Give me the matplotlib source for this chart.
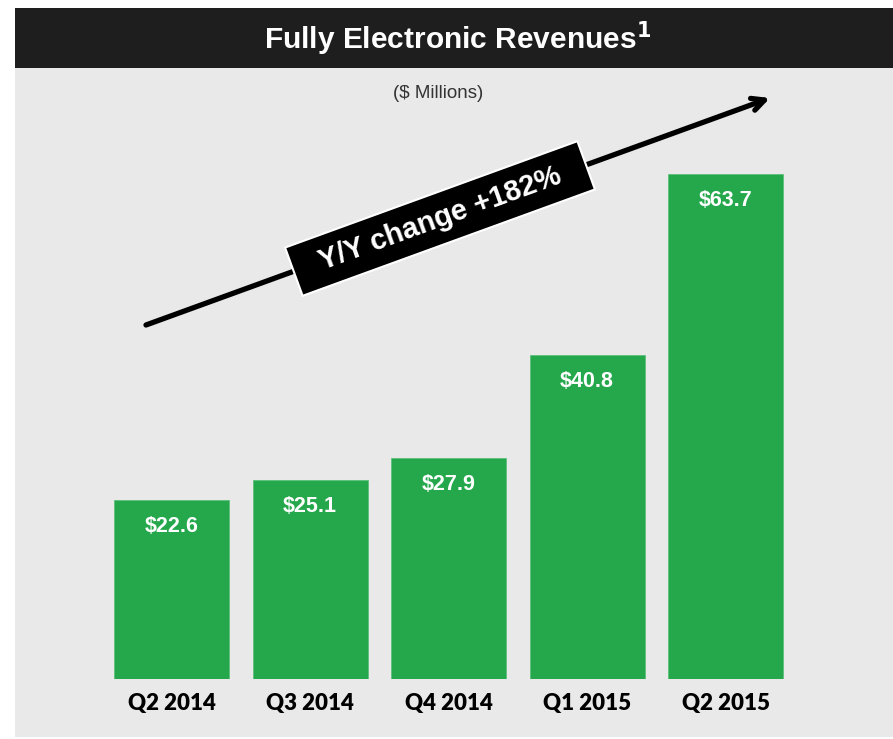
import matplotlib.pyplot as plt
from matplotlib.patches import Rectangle

quarters = ['Q2 2014', 'Q3 2014', 'Q4 2014', 'Q1 2015', 'Q2 2015']
revenues = [22.6, 25.1, 27.9, 40.8, 63.7]
value_labels = ['$22.6', '$25.1', '$27.9', '$40.8', '$63.7']

GREEN = '#25a84c'
PANEL = '#e9e9e9'
HEADER = '#1e1e1e'
SANS = ['Liberation Sans', 'DejaVu Sans']

W, H = 893, 739
fig = plt.figure(figsize=(W / 100, H / 100), dpi=100, facecolor='white')

# gray panel + black header band (kept behind the axes)
fig.patches.append(Rectangle((15 / W, 2 / H), 878 / W, 669 / H,
                             transform=fig.transFigure, facecolor=PANEL,
                             edgecolor='none', zorder=-2))
fig.patches.append(Rectangle((15 / W, (H - 68) / H), 878 / W, 60 / H,
                             transform=fig.transFigure, facecolor=HEADER,
                             edgecolor='none', zorder=-2))
fig.text(458 / W, (H - 39) / H, 'Fully Electronic Revenues$^{\\mathbf{1}}$',
         ha='center', va='center', color='white', fontsize=21.5,
         fontweight='bold', family=SANS)
fig.text(438 / W, (H - 94) / H, '($ Millions)', ha='center', va='center',
         color='#333333', fontsize=13.5, family=SANS)

# bars axis: zero line at y=679px, top at y=68px
ax = fig.add_axes([15 / W, (H - 679) / H, 878 / W, (679 - 68) / H])
ax.patch.set_visible(False)
x = list(range(len(quarters)))
bars = ax.bar(x, revenues, width=0.83, color=GREEN, edgecolor='#5cc07a',
              linewidth=0.6, zorder=2)
ax.set_xlim(-1.130, 5.209)
ax.set_ylim(0, 77.05)

for rect, lab in zip(bars, value_labels):
    ax.annotate(lab, (rect.get_x() + rect.get_width() / 2, rect.get_height()),
                xytext=(0, -19), textcoords='offset points', ha='center',
                va='center', color='white', fontsize=15.5, fontweight='bold',
                family=SANS)

ax.set_xticks(x)
ax.set_xticklabels(quarters, fontsize=16, fontweight='heavy', family='Lato')
ax.tick_params(axis='x', length=0, pad=10)
ax.set_yticks([])
for s in ax.spines.values():
    s.set_visible(False)

# growth arrow with rotated label
ax.annotate('', xy=(770, H - 98), xytext=(146, H - 325),
            xycoords='figure pixels', textcoords='figure pixels',
            arrowprops=dict(arrowstyle='->,head_length=0.9,head_width=0.45',
                            color='black', lw=3.8, shrinkA=0, shrinkB=0),
            zorder=3)
fig.text(440 / W, (H - 218.5) / H, '  Y/Y change +182%  ', rotation=20,
         rotation_mode='anchor', ha='center', va='center', color='white',
         fontsize=21, fontweight='bold', family=SANS, zorder=4,
         bbox=dict(boxstyle='square,pad=0.4', facecolor='black',
                   edgecolor='white', linewidth=1.5))

fig.savefig('out.png', dpi=100)
